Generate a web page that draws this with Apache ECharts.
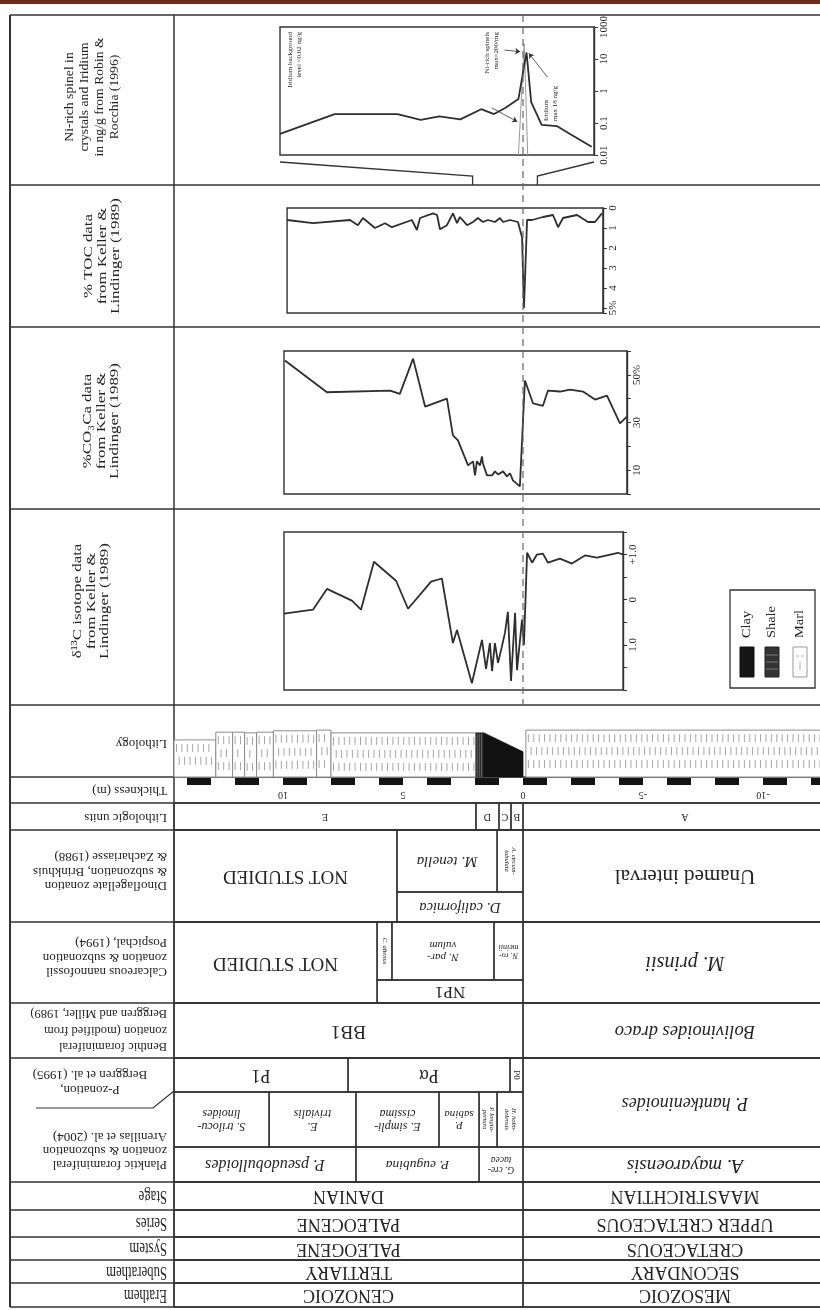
<!DOCTYPE html>
<html><head><meta charset="utf-8">
<script src="https://cdn.jsdelivr.net/npm/echarts@6/dist/echarts.min.js"></script>
<style>html,body{margin:0;padding:0;background:#fff}#c{width:820px;height:1310px}</style>
</head><body><div id="c"></div>
<script>
// ================= DATA =================
const depthTicks = [10, 5, 0, -5, -10];
const scaleBlack = [[14,13],[12,11],[10,9],[8,7],[6,5],[4,3],[2,1],[0,-1],[-2,-3],[-4,-5],[-6,-7],[-8,-9],[-10,-11],[-12,-13]];

// Ni-rich spinel & iridium (depth m, ng/g)
const niExtent = [2.1, -0.6];
const iridium = [[2.10,0.046],[1.63,0.19],[1.09,0.19],[0.89,0.125],[0.73,0.16],[0.55,0.13],[0.37,0.27],[0.26,0.19],[0.16,0.3],[0.05,0.56],[-0.02,16],[-0.06,0.45],[-0.15,0.087],[-0.28,0.08],[-0.39,0.046],[-0.58,0.018]];
const niSpinel = [[0.05,0.01],[0.0,30],[-0.03,0.01]];
const niArrows = [[[0.17,19],[0.035,17]],[[0.28,0.3],[0.06,0.11]],[[-0.2,2.7],[-0.04,15]]];
const niTickValues = [0.01,0.1,1,10,100];
const niTickLabels = ['0.01','0.1','1','10','1000'];

// % TOC
const tocExtent = [9.83, -3.33];
const toc = [[9.83,0.6],[8.75,0.76],[7.21,0.6],[6.88,0.86],[6.67,0.5],[6.17,1.0],[5.75,0.76],[5.46,0.96],[4.63,0.6],[4.42,1.1],[4.29,0.5],[3.75,0.27],[3.58,0.35],[3.46,1.06],[3.17,0.86],[2.92,0.27],[2.75,0.76],[2.63,0.45],[2.33,0.86],[2.08,0.7],[1.88,0.5],[1.67,0.7],[1.46,0.6],[1.17,0.7],[0.96,0.5],[0.83,0.7],[0.54,0.6],[0.21,0.7],[0.04,1.46],[-0.04,5.0],[-0.17,0.6],[-0.38,0.6],[-0.83,0.45],[-1.25,0.35],[-1.46,0.96],[-1.67,0.5],[-2.25,0.35],[-2.71,0.7],[-3.0,0.7],[-3.29,0.27]];
const tocTickValues = [0,1,2,3,4,5];
const tocTickLabels = ['0','1','2','3','4','5%'];

// % CO3Ca
const co3Extent = [9.96, -4.33];
const co3 = [[9.92,56],[8.17,42.7],[5.54,43.4],[5.13,42],[4.58,56.8],[4.08,36.7],[3.17,40],[2.92,24.6],[2.71,22.5],[2.29,12],[2.08,13.7],[2.0,7.8],[1.92,13.7],[1.79,12],[1.71,15.8],[1.67,12.8],[1.5,7.8],[1.29,7.8],[1.17,9.5],[1.04,8.2],[0.83,9.5],[0.67,7.4],[0.54,8.7],[0.42,5.7],[0.13,3.2],[-0.08,47.6],[-0.42,38],[-0.83,37],[-1.04,43.4],[-1.54,43],[-1.96,43.8],[-2.5,43],[-3.0,39.6],[-3.5,41.3],[-4.04,29.6],[-4.33,32.5]];
const co3TickValues = [10,30,50];
const co3TickLabels = ['10','30','50%'];

// d13C
const d13Extent = [9.96, -4.17];
const d13c = [[9.96,-0.31],[8.75,-0.22],[8.17,0.24],[7.13,-0.02],[6.75,-0.22],[6.21,0.84],[5.29,0.42],[4.79,-0.2],[3.83,0.4],[3.38,0.47],[2.92,-0.96],[2.75,-0.67],[2.13,-1.85],[1.71,-0.89],[1.54,-1.53],[1.38,-0.96],[1.29,-1.58],[1.17,-0.96],[1.04,-1.4],[0.88,-1.04],[0.75,-0.73],[0.63,-0.27],[0.5,-1.8],[0.33,-0.29],[0.25,-1.56],[0.04,-0.44],[-0.04,-1.0],[-0.17,1.04],[-0.38,0.82],[-0.58,1.0],[-0.83,1.02],[-1.04,0.82],[-1.54,0.91],[-2.04,0.8],[-2.58,0.98],[-3.08,0.93],[-3.96,1.04],[-4.17,1.0]];
const d13TickValues = [1,0,-1];
const d13TickLabels = ['+1.0','0','1.0'];

// lithology column: [fromDepth, toDepth, profileTopAtFrom, profileTopAtTo, type]
const lithology = [[15,12.8,5.3,5.3,'marl'],[12.8,12.1,6.4,6.4,'marl'],[12.1,11.6,6.4,6.4,'marl'],[11.6,11.1,6.3,6.3,'marl'],[11.1,10.4,6.4,6.4,'marl'],[10.4,8.6,6.6,6.6,'marl'],[8.6,8.0,6.7,6.7,'marl'],[8.0,1.96,6.3,6.3,'marl'],[1.96,1.63,6.3,6.3,'shale'],[1.63,0,6.3,3.6,'clay'],[-0.12,-13.5,6.7,6.7,'marl']];

// lithologic units
const unitNames = ['E','D','C','B','A'];
const unitBounds = [15, 1.96, 1.0, 0.5, 0, -13.5];

// biozones: [name, fromDepth, toDepth, level]
const dinoZones = [['NOT STUDIED',15,5.25,'full'],['M. tenella',5.25,1.08,'upper'],['A. circum-\ntabulata',1.08,0,'upper'],['D. californica',5.25,0,'lower'],['Unamed interval',0,-13.5,'full']];
const nannoZones = [['NOT STUDIED',15,6.08,'full'],['C. alienus',6.08,5.46,'upper'],['N. par-\nvulum',5.46,1.21,'upper'],['N. ro-\nmeinii',1.21,0,'upper'],['NP1',6.08,0,'lower'],['M. prinsii',0,-13.5,'full']];
const benthicZones = [['BB1',15,0,'full'],['Bolivinoides draco',0,-13.5,'full']];
const pZones = [['P1',15,7.29,'full'],['Pα',7.29,0.54,'full'],['P0',0.54,0,'full'],['P. hantkeninoides',0,-13.5,'span']];
const pSubzones = [['S. trilocu-\nlinoides',15,10.58,'full'],['E.\ntrivialis',10.58,6.96,'full'],['E. simpli-\ncissima',6.96,3.5,'full'],['P.\nsabina',3.5,1.83,'full'],['P. longia-\npertura',1.83,1.08,'full'],['H. holm-\ndelensis',1.08,0,'full']];
const plankticZones = [['P. pseudobulloides',15,6.96,'full'],['P. eugubina',6.96,1.83,'full'],['G. cre-\ntacea',1.83,0,'full'],['A. mayaroensis',0,-13.5,'full']];
const chronoBounds = [15, 0, -13.5];
const stageNames = ['DANIAN','MAASTRICHTIAN'];
const seriesNames = ['PALEOCENE','UPPER CRETACEOUS'];
const systemNames = ['PALEOGENE','CRETACEOUS'];
const suberaNames = ['TERTIARY','SECONDARY'];
const erathemNames = ['CENOZOIC','MESOZOIC'];

const legendItems = ['Clay','Shale','Marl'];

// ================= LAYOUT / STYLE =================
const SERIF = '"Liberation Serif","Times New Roman","DejaVu Serif",serif';
const INK = '#242424';
const LINE = '#333';
const L = { zeroX: 523, pxPerM: 24, frameLeft: 174, frameRight: 820, frameTop: 15, frameBottom: 1307, outerLeft: 10,
  ni: {left: 280, top: 27, width: 314, height: 128},
  toc: {top: 208, height: 105}, co3: {top: 351, height: 143}, d13: {top: 532, height: 158},
  litho: {top: 707, height: 70}, boundaryTop: 15, boundaryBottom: 705,
  scaleBar: [778, 785], scaleLabelY: 795 };
const ROWS = { units:[803,830], dino:[830,922], nanno:[922,1003], benthic:[1003,1058], pzone:[1058,1092], subzone:[1092,1147], planktic:[1147,1182], stage:[1182,1210], series:[1210,1237], system:[1237,1260], subera:[1260,1283], erathem:[1283,1307] };
const BANDS = { dino:{upper:[0,0.674], lower:[0.674,1]}, nanno:{upper:[0,0.716], lower:[0.716,1]}, pzone:{span:[0,(1147-1058)/(1092-1058)]} };
const rowLines = [15,185,327,509,705,777,803,830,922,1003,1058,1182,1210,1237,1260,1283,1307];

const depthMax = (L.zeroX - L.frameLeft) / L.pxPerM;
const depthMin = (L.zeroX - L.frameRight) / L.pxPerM;
const gx = d => L.zeroX - d * L.pxPerM;
function panelGrid(ext, box) { return {left: gx(ext[0]), width: (ext[0]-ext[1]) * L.pxPerM, top: box.top, height: box.height}; }
function labelFrom(values, labels, log) {
  return v => { const i = values.findIndex(t => log ? Math.abs(Math.log10(t) - Math.log10(v)) < 1e-6 : Math.abs(t - v) < 1e-6); return i < 0 ? '' : labels[i]; };
}

// cells
const cells = [];
function addZones(row, arr) { arr.forEach(z => cells.push({row, name: z[0], from: z[1], to: z[2], band: z[3]})); }
function addChrono(row, names) { names.forEach((n, i) => cells.push({row, name: n, from: chronoBounds[i], to: chronoBounds[i+1], band: 'full'})); }
unitNames.forEach((n, i) => cells.push({row: 'units', name: n, from: unitBounds[i], to: unitBounds[i+1], band: 'full'}));
addZones('dino', dinoZones); addZones('nanno', nannoZones); addZones('benthic', benthicZones);
addZones('pzone', pZones); addZones('subzone', pSubzones); addZones('planktic', plankticZones);
addChrono('stage', stageNames); addChrono('series', seriesNames); addChrono('system', systemNames);
addChrono('subera', suberaNames); addChrono('erathem', erathemNames);

// per-label typography (size, italic, vertical)
const FONT = {
  'NOT STUDIED': [19, 0], 'Unamed interval': [21, 0], 'NP1': [17, 0], 'BB1': [19, 0], 'P1': [18, 0], 'Pα': [18, 0], 'P0': [9, 0, 1],
  'M. tenella': [15, 1], 'D. californica': [14.5, 1], 'A. circum-\ntabulata': [6.5, 1, 1], 'C. alienus': [6.5, 1, 1],
  'N. par-\nvulum': [11, 1], 'N. ro-\nmeinii': [8, 1], 'M. prinsii': [20, 1], 'Bolivinoides draco': [18.5, 1],
  'P. hantkeninoides': [18, 1], 'S. trilocu-\nlinoides': [12, 1], 'E.\ntrivialis': [12, 1], 'E. simpli-\ncissima': [12, 1],
  'P.\nsabina': [11, 1], 'P. longia-\npertura': [6.5, 1, 1], 'H. holm-\ndelensis': [6.5, 1, 1],
  'P. pseudobulloides': [16, 1], 'P. eugubina': [13.5, 1], 'G. cre-\ntacea': [9.5, 1], 'A. mayaroensis': [19, 1]
};
function cellStyle(c) {
  if (c.row === 'units') return {size: 10, italic: false, rot: Math.PI};
  const f = FONT[c.name];
  if (!f) return {size: 18, italic: false, rot: Math.PI};
  return {size: f[0], italic: !!f[1], rot: f[2] ? -Math.PI / 2 : Math.PI};
}

function renderCell(params, api) {
  const c = cells[params.dataIndex];
  const x0 = Math.max(api.coord([api.value(0), 0])[0], L.frameLeft);
  const x1 = api.coord([api.value(1), 0])[0];
  const r = ROWS[c.row];
  const f = (BANDS[c.row] && BANDS[c.row][c.band]) || [0, 1];
  const y0 = r[0] + (r[1]-r[0]) * f[0], y1 = r[0] + (r[1]-r[0]) * f[1];
  const st = cellStyle(c);
  return {type: 'group', children: [
    {type: 'rect', shape: {x: x0, y: y0, width: x1 - x0, height: y1 - y0}, style: {fill: 'transparent', stroke: LINE, lineWidth: 1.3}},
    {type: 'text', x: (x0 + x1) / 2, y: (y0 + y1) / 2, rotation: st.rot,
     style: {text: c.name, fontFamily: SERIF, fontSize: st.size, fontStyle: st.italic ? 'italic' : 'normal', fill: INK, align: 'center', verticalAlign: 'middle', lineHeight: st.size * 1.05}}
  ]};
}

function renderLitho(params, api) {
  const it = lithology[params.dataIndex];
  const type = it[4];
  const cs = params.coordSys;
  const xa = Math.max(api.coord([api.value(0), 0])[0], cs.x);
  const xb = api.coord([api.value(1), 0])[0];
  const yb = api.coord([api.value(0), 0])[1];
  const ya = api.coord([api.value(0), api.value(2)])[1];
  const yc = api.coord([api.value(1), api.value(3)])[1];
  const pts = [[xa, yb], [xa, ya], [xb, yc], [xb, yb]];
  const ch = [];
  if (type === 'clay') {
    ch.push({type: 'polygon', shape: {points: pts}, style: {fill: '#111', stroke: '#111', lineWidth: 0.8}});
  } else if (type === 'shale') {
    ch.push({type: 'polygon', shape: {points: pts}, style: {fill: '#2e2e2e', stroke: '#222', lineWidth: 0.8}});
    for (let x = xa + 1.2; x < xb - 0.5; x += 2.2) ch.push({type: 'line', shape: {x1: x, y1: ya + 1, x2: x, y2: yb}, style: {stroke: '#8a8a8a', lineWidth: 0.5}});
  } else {
    ch.push({type: 'polygon', shape: {points: pts}, style: {fill: '#fff', stroke: '#8c8c8c', lineWidth: 1}});
    const top = Math.min(ya, yc);
    let r = 0;
    for (let y = top + 4; y + 8 < yb; y += 13, r++) {
      for (let x = xa + 2.5 + (r % 2 ? 2.7 : 0); x < xb - 1.5; x += 5.4) {
        ch.push({type: 'line', shape: {x1: x, y1: y, x2: x, y2: y + 8}, style: {stroke: '#8f8f8f', lineWidth: 0.8}});
      }
    }
  }
  return {type: 'group', children: ch};
}

// ================= CHART =================
const chart = echarts.init(document.getElementById('c'), null, {renderer: 'canvas', width: 820, height: 1310});

const axisLbl = (fmt) => ({rotate: 90, formatter: fmt, fontFamily: SERIF, fontSize: 11, color: INK, margin: 5});
const yCommon = {position: 'right', axisLine: {show: true, onZero: false, lineStyle: {color: LINE, width: 1.4}}, axisTick: {show: true, length: 4, lineStyle: {color: LINE, width: 1}}, splitLine: {show: false}};
const gridBox = {show: true, borderColor: LINE, borderWidth: 1.4, backgroundColor: 'transparent'};
const lineSeries = (xi, data, color, width) => ({type: 'line', xAxisIndex: xi, yAxisIndex: xi, data, symbol: 'none', silent: true, lineStyle: {color, width}, z: 3});

const graphic = [];
graphic.push({type: 'rect', shape: {x: 0, y: 0, width: 820, height: 4}, style: {fill: '#6e2a1d'}});
rowLines.forEach(y => graphic.push({type: 'line', shape: {x1: L.outerLeft, y1: y, x2: 820, y2: y}, style: {stroke: LINE, lineWidth: 1.5}}));
graphic.push({type: 'line', shape: {x1: L.outerLeft, y1: L.frameTop, x2: L.outerLeft, y2: L.frameBottom}, style: {stroke: LINE, lineWidth: 2}});
graphic.push({type: 'line', shape: {x1: L.frameLeft, y1: L.frameTop, x2: L.frameLeft, y2: L.frameBottom}, style: {stroke: LINE, lineWidth: 1.5}});
graphic.push({type: 'polyline', shape: {points: [[36, 1108], [153, 1108], [L.frameLeft, 1091]]}, style: {stroke: LINE, lineWidth: 1.2, fill: null}});

// top-row headers (rotated, reading upwards)
[['Ni-rich spinel in\ncrystals and Iridium\nin ng/g from Robin &\nRocchia (1996)', 92, 97, 13, 15, 1.05],
 ['% TOC data\nfrom Keller &\nLindinger (1989)', 102, 256, 13.5, 13.5, 1.25],
 ['%CO\u2083Ca data\nfrom Keller &\nLindinger (1989)', 101, 421, 13.5, 13.5, 1.25],
 ['\u03B4\u00B9\u00B3C isotope data\nfrom Keller &\nLindinger (1989)', 91, 601, 13.5, 13.5, 1.25]
].forEach(h => graphic.push({type: 'text', x: h[1], y: h[2], rotation: Math.PI / 2, scaleX: h[5],
  style: {text: h[0], fontFamily: SERIF, fontSize: h[3], lineHeight: h[4], fill: INK, align: 'center', verticalAlign: 'middle'}}));

// lower headers (upside-down)
[['Lithology', 743, 13, 14, 1, 1], ['Thickness (m)', 790, 13, 14, 1, 1], ['Lithologic units', 817, 13, 14, 1, 1],
 ['Dinoflagellate zonation\n& subzonation, Brinkhuis\n& Zachariasse (1988)', 871, 13, 14.5, 1, 1],
 ['Calcareous nannofossil\nzonation & subzonation\nPospichal, (1994)', 957, 13, 14.5, 1, 1],
 ['Benthic foraminiferal\nzonation (modified from\nBerggren and Miller, 1989)', 1030, 12.5, 16.5, 1, 1],
 ['Planktic foraminiferal\nzonation & subzonation\nArenillas et al. (2004)', 1150, 13, 14, 1, 1],
 ['Stage', 1196, 15, 16, 0.85, 1.2], ['Series', 1223, 15, 16, 0.85, 1.2], ['System', 1248, 15, 16, 0.85, 1.2], ['Suberathem', 1272, 15, 16, 0.85, 1.2], ['Erathem', 1295, 15, 16, 0.85, 1.2]
].forEach(h => graphic.push({type: 'text', x: 167, y: h[1], rotation: Math.PI, scaleX: h[4], scaleY: h[5],
  style: {text: h[0], fontFamily: SERIF, fontSize: h[2], lineHeight: h[3], fill: INK, align: 'left', verticalAlign: 'middle'}}));
graphic.push({type: 'text', x: 90, y: 1082, rotation: Math.PI,
  style: {text: 'P-zonation,\nBerggren et al. (1995)', fontFamily: SERIF, fontSize: 13, lineHeight: 15, fill: INK, align: 'center', verticalAlign: 'middle'}});

// Ni panel annotations
[['Iridium background\nlevel <0.02 ng/g', 295, 32, 'right'], ['Ni-rich spinels\nmax=200/mg', 492, 32, 'right'], ['Iridium\nmax 18 ng/g', 551, 121, 'left']]
  .forEach(a => graphic.push({type: 'text', x: a[1], y: a[2], rotation: Math.PI / 2,
    style: {text: a[0], fontFamily: SERIF, fontSize: 7, lineHeight: 9, fill: INK, align: a[3], verticalAlign: 'middle'}}));

// legend box
graphic.push({type: 'rect', shape: {x: 730, y: 590, width: 85, height: 98}, style: {fill: '#fff', stroke: LINE, lineWidth: 1.3}});
const legX = [747, 772, 800];
legendItems.forEach((n, i) => {
  graphic.push({type: 'text', x: legX[i], y: 638, rotation: Math.PI / 2, scaleX: 1.15, style: {text: n, fontFamily: SERIF, fontSize: 12.5, fill: INK, align: 'left', verticalAlign: 'middle'}});
  const sw = {x: legX[i] - 7, y: 647, width: 14, height: 30};
  if (n === 'Clay') graphic.push({type: 'rect', shape: sw, style: {fill: '#151515', stroke: '#111'}});
  else if (n === 'Shale') {
    graphic.push({type: 'rect', shape: sw, style: {fill: '#333', stroke: '#222'}});
    [655, 662, 669].forEach(y => graphic.push({type: 'line', shape: {x1: sw.x + 1, y1: y, x2: sw.x + sw.width - 1, y2: y}, style: {stroke: '#999', lineWidth: 0.7}}));
  } else {
    graphic.push({type: 'rect', shape: sw, style: {fill: '#fff', stroke: '#999'}});
    graphic.push({type: 'line', shape: {x1: sw.x + 3, y1: 656, x2: sw.x + 11, y2: 656}, style: {stroke: '#999', lineWidth: 0.8, lineDash: [3, 2]}});
    graphic.push({type: 'line', shape: {x1: legX[i], y1: 662, x2: legX[i], y2: 670}, style: {stroke: '#999', lineWidth: 0.8}});
  }
});

const option = {
  animation: false,
  backgroundColor: '#fff',
  grid: [
    Object.assign({}, gridBox, L.ni),
    Object.assign({}, gridBox, panelGrid(tocExtent, L.toc)),
    Object.assign({}, gridBox, panelGrid(co3Extent, L.co3)),
    Object.assign({}, gridBox, panelGrid(d13Extent, L.d13)),
    {left: L.frameLeft, width: L.frameRight - L.frameLeft, top: L.litho.top, height: L.litho.height, show: false},
    {left: L.frameLeft, width: L.frameRight - L.frameLeft, top: L.frameTop, height: L.frameBottom - L.frameTop, show: false}
  ],
  xAxis: [
    {gridIndex: 0, type: 'value', min: niExtent[1], max: niExtent[0], inverse: true, show: false},
    {gridIndex: 1, type: 'value', min: tocExtent[1], max: tocExtent[0], inverse: true, show: false},
    {gridIndex: 2, type: 'value', min: co3Extent[1], max: co3Extent[0], inverse: true, show: false},
    {gridIndex: 3, type: 'value', min: d13Extent[1], max: d13Extent[0], inverse: true, show: false},
    {gridIndex: 4, type: 'value', min: depthMin, max: depthMax, inverse: true, show: false},
    {gridIndex: 5, type: 'value', min: depthMin, max: depthMax, inverse: true, show: false}
  ],
  yAxis: [
    Object.assign({gridIndex: 0, type: 'log', logBase: 10, min: 0.01, max: 100, axisLabel: axisLbl(labelFrom(niTickValues, niTickLabels, true))}, yCommon),
    Object.assign({gridIndex: 1, type: 'value', min: 0, max: 5.25, interval: 1, inverse: true, axisLabel: axisLbl(labelFrom(tocTickValues, tocTickLabels))}, yCommon),
    Object.assign({gridIndex: 2, type: 'value', min: 0, max: 60, interval: 10, axisLabel: axisLbl(labelFrom(co3TickValues, co3TickLabels))}, yCommon),
    Object.assign({gridIndex: 3, type: 'value', min: -2, max: 1.5, interval: 0.5, axisLabel: axisLbl(labelFrom(d13TickValues, d13TickLabels))}, yCommon),
    {gridIndex: 4, type: 'value', min: 0, max: 10, show: false},
    {gridIndex: 5, type: 'value', min: 0, max: 1, show: false}
  ],
  series: [
    Object.assign(lineSeries(0, niSpinel, '#9a9a9a', 1), {z: 2}),
    Object.assign(lineSeries(0, iridium, '#2e2e2e', 1.8), {
      markLine: {silent: true, symbol: ['none', 'arrow'], symbolSize: 5, animation: false,
        lineStyle: {color: '#333', width: 0.8, type: 'solid'}, label: {show: false},
        data: niArrows.map(a => [{coord: a[0]}, {coord: a[1]}])}
    }),
    lineSeries(1, toc, '#2e2e2e', 1.8),
    lineSeries(2, co3, '#2e2e2e', 1.8),
    lineSeries(3, d13c, '#2e2e2e', 1.8),
    {type: 'custom', xAxisIndex: 4, yAxisIndex: 4, silent: true, data: lithology.map(d => [d[0], d[1], d[2], d[3]]), renderItem: renderLitho},
    // K/T boundary dashed line
    {type: 'custom', xAxisIndex: 5, yAxisIndex: 5, silent: true, z: 4, data: [[0, 0]], renderItem: (p, api) => {
      const x = api.coord([api.value(0), 0])[0];
      return {type: 'line', shape: {x1: x, y1: L.boundaryTop, x2: x, y2: L.boundaryBottom}, style: {stroke: '#666', lineWidth: 1.2, lineDash: [7, 5]}};
    }},
    // expansion connectors below Ni panel
    {type: 'custom', xAxisIndex: 5, yAxisIndex: 5, silent: true, data: niExtent.map(d => [d, 0]), renderItem: (p, api) => {
      const x = api.coord([api.value(0), 0])[0];
      const edge = p.dataIndex === 0 ? L.ni.left : L.ni.left + L.ni.width;
      return {type: 'polyline', shape: {points: [[edge, 162], [x, 176], [x, 185]]}, style: {stroke: LINE, lineWidth: 1.3, fill: null}};
    }},
    // thickness scale bar
    {type: 'custom', xAxisIndex: 5, yAxisIndex: 5, silent: true, data: scaleBlack, renderItem: (p, api) => {
      const xa = Math.max(api.coord([api.value(0), 0])[0], L.frameLeft), xb = api.coord([api.value(1), 0])[0];
      return {type: 'rect', shape: {x: xa, y: L.scaleBar[0], width: xb - xa, height: L.scaleBar[1] - L.scaleBar[0]}, style: {fill: '#141414'}};
    }},
    {type: 'custom', xAxisIndex: 5, yAxisIndex: 5, silent: true, data: depthTicks.map(v => [v, 0]), renderItem: (p, api) => {
      const x = api.coord([api.value(0), 0])[0];
      return {type: 'text', x, y: L.scaleLabelY, rotation: Math.PI, style: {text: String(depthTicks[p.dataIndex]), fontFamily: SERIF, fontSize: 10, fill: INK, align: 'center', verticalAlign: 'middle'}};
    }},
    // stratigraphic table
    {type: 'custom', xAxisIndex: 5, yAxisIndex: 5, silent: true, data: cells.map(c => [c.from, c.to]), renderItem: renderCell}
  ],
  graphic: {elements: graphic}
};
chart.setOption(option);
</script></body></html>
